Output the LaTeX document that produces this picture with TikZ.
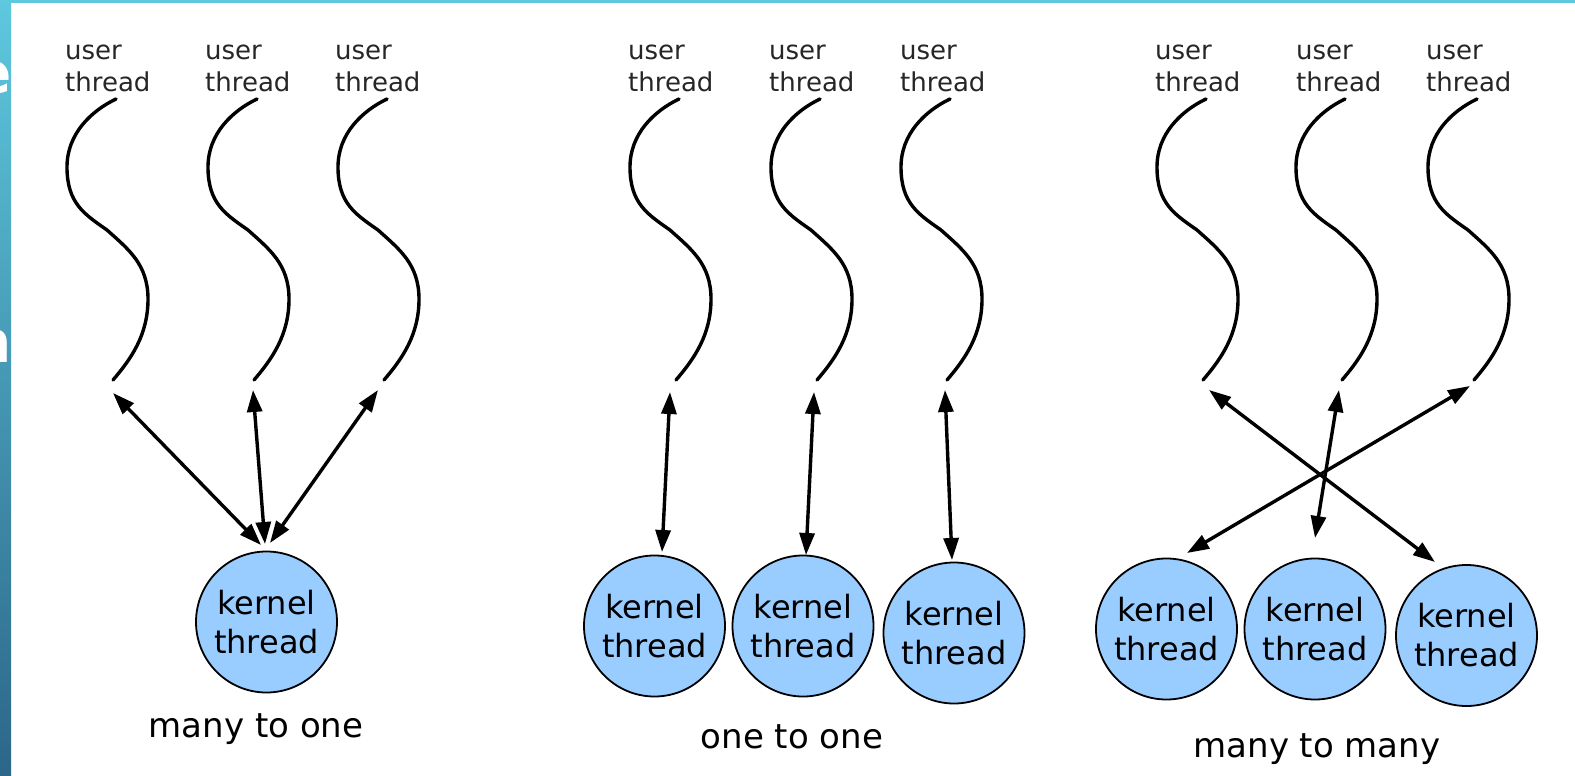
\documentclass[tikz,border=0pt]{standalone}
\usepackage{fontspec}
\setmainfont{DejaVu Sans}
\usetikzlibrary{arrows.meta}

\definecolor{kfill}{HTML}{99CCFF}
\definecolor{bandtop}{HTML}{5EC8DE}
\definecolor{bandmid}{HTML}{48B0C8}
\definecolor{bandbot}{HTML}{2C6688}

\tikzset{
  thread/.style={line width=3.4pt, line cap=round},
  link/.style={line width=3.4pt,
    {Triangle[length=22pt,width=15pt]}-{Triangle[length=22pt,width=15pt]}},
  kernel/.style={circle, draw, line width=1.8pt, fill=kfill, minimum size=141pt,
    inner sep=0pt, align=center, font=\fontsize{32}{39}\selectfont},
  ulabel/.style={inner sep=0pt, align=left, anchor=north west, text=black!85,
    font=\fontsize{26}{31.4}\selectfont},
  modelname/.style={inner sep=0pt, anchor=base, font=\fontsize{34}{40}\selectfont},
  fragment/.style={inner sep=0pt, anchor=base east, text=white,
    font=\fontsize{58}{58}\selectfont\bfseries},
  wave/.pic={
    \draw[thread] (0,0) .. controls (-25,12) and (-49,35) .. (-49,68)
      .. controls (-49,104) and (-32,115) .. (-9,131)
      .. controls (12,150) and (32,165) .. (32,200)
      .. controls (32,236) and (15,260) .. (-3,281);
  }
}

\begin{document}
\begin{tikzpicture}[x=1pt,y=-1pt]
  % page and frame band
  \useasboundingbox (0,0) rectangle (1575,776);
  \fill[white] (0,0) rectangle (1575,776);
  \fill[bandtop] (0,0) rectangle (1575,3);
  \shade[top color=bandtop, middle color=bandmid, bottom color=bandbot]
    (0,0) rectangle (11,776);
  \begin{scope}
    \clip (0,0) rectangle (11,776);
    \node[fragment] (frag-e) at (12,93) {e};
    \node[fragment] (frag-n) at (12,362) {n};
  \end{scope}

  % user threads: label and wavy line
  \foreach \i/\lx/\cx in {1/65/116, 2/205/257, 3/335/387,
                          4/628/679, 5/769/820, 6/900/950,
                          7/1155/1206, 8/1296/1345, 9/1426/1477} {
    \node[ulabel] (lab\i) at (\lx,45) {user\\thread};
    \coordinate (top\i) at (\cx,99);
    \pic at (top\i) {wave};
  }

  % kernel threads
  \node[kernel] (k1) at (266.5,622) {kernel\\thread};
  \node[kernel] (k2) at (654.5,626) {kernel\\thread};
  \node[kernel] (k3) at (803,626)   {kernel\\thread};
  \node[kernel] (k4) at (954,633)   {kernel\\thread};
  \node[kernel] (k5) at (1166.5,629) {kernel\\thread};
  \node[kernel] (k6) at (1315,629)  {kernel\\thread};
  \node[kernel] (k7) at (1466.5,635.5) {kernel\\thread};

  % ends of the mapping arrows
  \coordinate (u1) at (113,393);  \coordinate (b1) at (261,545);
  \coordinate (u2) at (253,390);  \coordinate (b2) at (265,544);
  \coordinate (u3) at (378,390);  \coordinate (b3) at (270,543);
  \coordinate (u4) at (670,392);  \coordinate (b4) at (662,552);
  \coordinate (u5) at (814,392);  \coordinate (b5) at (806,555);
  \coordinate (u6) at (945,390);  \coordinate (b6) at (952,560);
  \coordinate (u7) at (1209,390); \coordinate (b7) at (1435,562);
  \coordinate (u8) at (1339,390); \coordinate (b8) at (1315,538);
  \coordinate (u9) at (1470,386); \coordinate (b9) at (1187,553);

  % many to one
  \draw[link] (u1) -- (b1);
  \draw[link] (u2) -- (b2);
  \draw[link] (u3) -- (b3);
  % one to one
  \draw[link] (u4) -- (b4);
  \draw[link] (u5) -- (b5);
  \draw[link] (u6) -- (b6);
  % many to many
  \draw[link] (u7) -- (b7);
  \draw[link] (u8) -- (b8);
  \draw[link] (u9) -- (b9);

  % model names
  \node[modelname] (c1) at (256,737)  {many to one};
  \node[modelname] (c2) at (792,748)  {one to one};
  \node[modelname] (c3) at (1317,757) {many to many};
\end{tikzpicture}
\end{document}
